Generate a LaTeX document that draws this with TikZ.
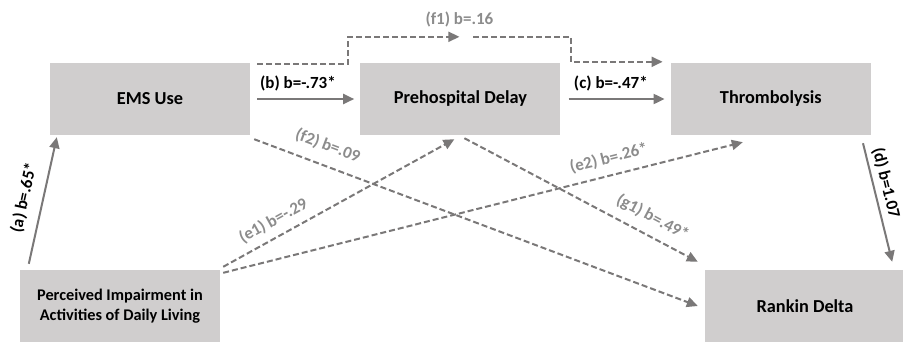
\documentclass[tikz,border=0pt]{standalone}
\usepackage{fontspec}
\setmainfont{Carlito}
\usetikzlibrary{positioning,arrows.meta}
\definecolor{boxgray}{HTML}{D0CECE}
\definecolor{arrgray}{HTML}{7A7878}
\definecolor{lblgray}{HTML}{8C8C8C}

\begin{document}
\begin{tikzpicture}[x=1pt,y=1pt,
    box/.style={fill=boxgray,minimum width=200pt,minimum height=72pt,inner sep=2pt,align=center,font=\fontsize{18.3}{20}\selectfont\bfseries},
    solidarr/.style={draw=arrgray,line width=2pt,-{Triangle[length=11pt,width=10pt]}},
    dasharr/.style={draw=arrgray,line width=2pt,dash pattern=on 6pt off 3pt,-{Triangle[length=11pt,width=10pt]}},
    lbl/.style={font=\fontsize{17}{20}\selectfont\bfseries,sloped},
    glbl/.style={lbl,text=lblgray}]
    \useasboundingbox (0,0) rectangle (903,-341);
    % boxes
    \node[box] (ems) at (150,-99) {EMS Use};
    \node[box,right=110pt of ems] (pd) {Prehospital Delay};
    \node[box,right=110pt of pd] (thr) {Thrombolysis};
    \node[box,font=\fontsize{16.3}{20}\selectfont\bfseries] (pid) at (120,-306) {Perceived Impairment in\\Activities of Daily Living};
    \node[box] (rank) at (805,-306) {Rankin Delta};
    % solid paths
    \draw[solidarr] ([xshift=9pt,yshift=6pt]pid.north west) -- node[lbl,above=7pt,pos=0.49] {(a) b=.65*} ([xshift=7pt,yshift=-2pt]ems.south west);
    \draw[solidarr] ([xshift=7pt]ems.east) -- node[lbl,above=4pt,pos=0.42] {(b) b=-.73*} ([xshift=-6pt]pd.west);
    \draw[solidarr] ([xshift=8pt]pd.east) -- node[lbl,above=4pt,pos=0.44] {(c) b=-.47*} ([xshift=-6pt]thr.west);
    \draw[solidarr] ([xshift=-8pt,yshift=-8pt]thr.south east) -- node[lbl,above=1pt,pos=0.36] {(d) b=1.07} ([xshift=-13pt,yshift=8pt]rank.north east);
    % dashed paths
    \coordinate (f1a) at ([xshift=-1pt,yshift=26pt]pd.north);
    \coordinate (f1b) at ([xshift=13pt,yshift=26pt]pd.north);
    \draw[dasharr] ([xshift=7pt,yshift=-1pt]ems.north east) -- ++(91,0) |- (f1a);
    \node[glbl,above=6pt] at (f1a) {(f1) b=.16};
    \draw[dasharr] (f1b) -- ++(98,0) |- ([xshift=-8pt,yshift=1pt]thr.north west);
    \draw[dasharr] ([xshift=4pt,yshift=-4pt]ems.south east) -- node[glbl,above=8pt,pos=0.15] {(f2) b=.09} ([xshift=-7pt]rank.west);
    \draw[dasharr] ([xshift=3pt,yshift=3pt]pid.north east) -- node[glbl,above=4pt,pos=0.25] {(e1) b=-.29} ([xshift=-6pt,yshift=-4pt]pd.south);
    \draw[dasharr] ([xshift=3pt,yshift=-3pt]pid.north east) -- node[glbl,above=5pt,pos=0.75] {(e2) b=.26*} ([xshift=-28pt,yshift=-7pt]thr.south);
    \draw[dasharr] ([xshift=4pt,yshift=-3pt]pd.south) -- node[glbl,above=6pt,pos=0.77] {(g1) b=.49*} ([xshift=-7pt,yshift=8pt]rank.north west);
\end{tikzpicture}
\end{document}
